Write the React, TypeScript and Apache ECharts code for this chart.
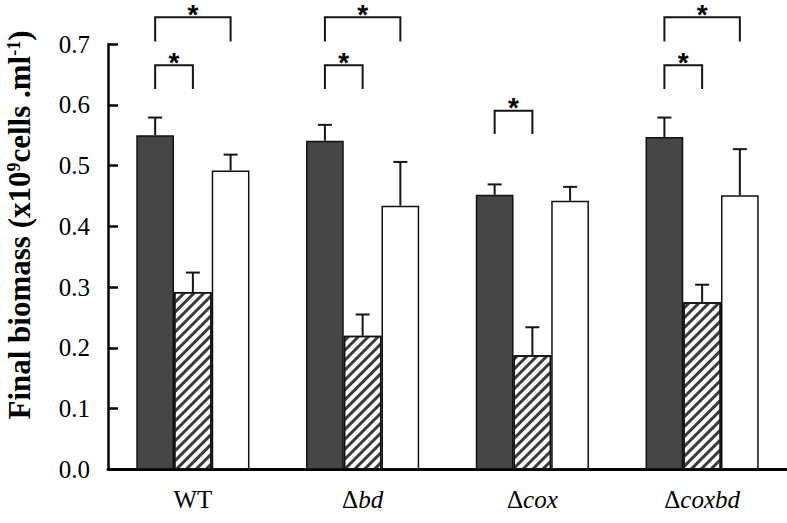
import React, { useEffect, useRef } from 'react';
import * as echarts from 'echarts';

const categories = ['WT', 'Δbd', 'Δcox', 'Δcoxbd'];
const yTicks = [0, 0.1, 0.2, 0.3, 0.4, 0.5, 0.6, 0.7];

const darkValues = [0.55, 0.541, 0.452, 0.547];
const darkUpper = [0.579, 0.567, 0.469, 0.579];
const hatchValues = [0.292, 0.22, 0.188, 0.275];
const hatchUpper = [0.324, 0.255, 0.234, 0.304];
const whiteValues = [0.492, 0.434, 0.442, 0.451];
const whiteUpper = [0.518, 0.506, 0.465, 0.527];

// [category index, left bar, right bar, bracket top value, bracket leg value]
const brackets = [
  [0, 0, 1, 0.665, 0.626],
  [0, 0, 2, 0.744, 0.704],
  [1, 0, 1, 0.665, 0.626],
  [1, 0, 2, 0.744, 0.704],
  [2, 0, 1, 0.59, 0.552],
  [3, 0, 1, 0.665, 0.626],
  [3, 0, 2, 0.744, 0.704],
];

const SERIF = "'Liberation Serif', 'Times New Roman', serif";

export default function App() {
  const ref = useRef<HTMLDivElement>(null);
  useEffect(() => {
    const chart = echarts.init(ref.current!, null, { renderer: 'svg' });
    const BAR_FRAC = 2 / 9;
    const errData: number[][] = [];
    [
      [darkValues, darkUpper],
      [hatchValues, hatchUpper],
      [whiteValues, whiteUpper],
    ].forEach(([vals, ups], b) => {
      vals.forEach((v, i) => errData.push([i, b, v, ups[i]]));
    });

    const lineStyle = { stroke: '#151515', lineWidth: 2 };

    chart.setOption({
      animation: false,
      grid: { left: 108, right: 0, top: 44, bottom: 53.5 },
      xAxis: {
        type: 'category',
        data: categories,
        axisLine: { lineStyle: { color: '#000', width: 3 } },
        axisTick: { show: false },
        axisLabel: {
          interval: 0,
          margin: 17,
          color: '#000',
          fontFamily: SERIF,
          fontSize: 25,
          formatter: (v: string) =>
            v.startsWith('Δ') ? `{d|Δ}{i|${v.slice(1)}}` : `{n|${v}}`,
          rich: {
            n: { fontFamily: SERIF, fontSize: 25, color: '#000' },
            d: { fontFamily: SERIF, fontSize: 25, color: '#000' },
            i: { fontFamily: SERIF, fontSize: 25, fontStyle: 'italic', color: '#000' },
          },
        },
      },
      yAxis: {
        type: 'value',
        min: 0,
        max: 0.7,
        interval: 0.1,
        axisLine: { show: true, lineStyle: { color: '#000', width: 2.5 } },
        axisTick: { show: true, inside: true, length: 10, lineStyle: { color: '#000', width: 2.5 } },
        splitLine: { show: false },
        axisLabel: {
          margin: 18,
          color: '#000',
          fontFamily: SERIF,
          fontSize: 25,
          formatter: (v: number) => {
            const t = yTicks.find((x) => Math.abs(x - v) < 1e-6);
            return (t ?? v).toFixed(1);
          },
        },
      },
      graphic: [
        {
          type: 'text',
          x: 19,
          y: 225,
          rotation: Math.PI / 2,
          style: {
            text: '{b|Final biomass (x10}{s|9}{b|cells .ml}{s|-1}{b|)}',
            align: 'center',
            verticalAlign: 'middle',
            rich: {
              b: { fontFamily: SERIF, fontSize: 31, fontWeight: 'bold', fill: '#000', lineHeight: 36, verticalAlign: 'middle' },
              s: { fontFamily: SERIF, fontSize: 18, fontWeight: 'bold', fill: '#000', lineHeight: 18, verticalAlign: 'top', padding: [4, 0, 0, 0] },
            },
          },
        },
      ],
      series: [
        {
          type: 'bar',
          name: 'dark',
          data: darkValues,
          barGap: '0%',
          barCategoryGap: '33.33%',
          itemStyle: { color: '#464646', borderColor: '#111', borderWidth: 1.5 },
          z: 2,
        },
        {
          type: 'bar',
          name: 'hatched',
          data: hatchValues,
          barGap: '0%',
          barCategoryGap: '33.33%',
          itemStyle: {
            color: '#ffffff',
            borderColor: '#111',
            borderWidth: 1.5,
            decal: {
              symbol: 'rect',
              symbolSize: 1,
              dashArrayX: [1, 0],
              dashArrayY: [2.5, 3.5],
              rotation: -Math.PI / 4,
              color: '#3a3a3a',
            },
          },
          z: 2,
        },
        {
          type: 'bar',
          name: 'white',
          data: whiteValues,
          barGap: '0%',
          barCategoryGap: '33.33%',
          itemStyle: { color: '#ffffff', borderColor: '#111', borderWidth: 1.5 },
          z: 2,
        },
        {
          type: 'custom',
          name: 'errors',
          data: errData,
          encode: { x: 0, y: [2, 3] },
          clip: false,
          z: 3,
          renderItem: (params: any, api: any) => {
            const cat = api.value(0);
            const b = api.value(1);
            const base = api.coord([cat, api.value(2)]);
            const top = api.coord([cat, api.value(3)]);
            const band = api.size([1, 0])[0];
            const x = base[0] + (b - 1) * band * BAR_FRAC;
            return {
              type: 'group',
              children: [
                { type: 'line', shape: { x1: x, y1: base[1], x2: x, y2: top[1] }, style: lineStyle },
                { type: 'line', shape: { x1: x - 7, y1: top[1], x2: x + 7, y2: top[1] }, style: lineStyle },
              ],
            };
          },
        },
        {
          type: 'custom',
          name: 'brackets',
          data: brackets,
          encode: { x: 0, y: [3, 4] },
          clip: false,
          z: 3,
          renderItem: (params: any, api: any) => {
            const cat = api.value(0);
            const lb = api.value(1);
            const rb = api.value(2);
            const topP = api.coord([cat, api.value(3)]);
            const legP = api.coord([cat, api.value(4)]);
            const band = api.size([1, 0])[0];
            const w = band * BAR_FRAC;
            const xL = topP[0] + (lb - 1) * w;
            const xR = topP[0] + (rb - 1) * w;
            return {
              type: 'group',
              children: [
                {
                  type: 'polyline',
                  shape: { points: [[xL, legP[1]], [xL, topP[1]], [xR, topP[1]], [xR, legP[1]]] },
                  style: { stroke: '#151515', lineWidth: 2, fill: null },
                },
                {
                  type: 'text',
                  x: (xL + xR) / 2,
                  y: topP[1] - 3,
                  style: {
                    text: '*',
                    align: 'center',
                    verticalAlign: 'middle',
                    lineHeight: 12,
                    fontFamily: "'Liberation Sans', Arial, sans-serif",
                    fontWeight: 'bold',
                    fontSize: 28,
                    fill: '#000',
                  },
                },
              ],
            };
          },
        },
      ],
    });
    return () => chart.dispose();
  }, []);
  return (
    <div
      ref={ref}
      style={{ position: 'absolute', left: 0, top: 0, width: 787, height: 523 }}
    />
  );
}
